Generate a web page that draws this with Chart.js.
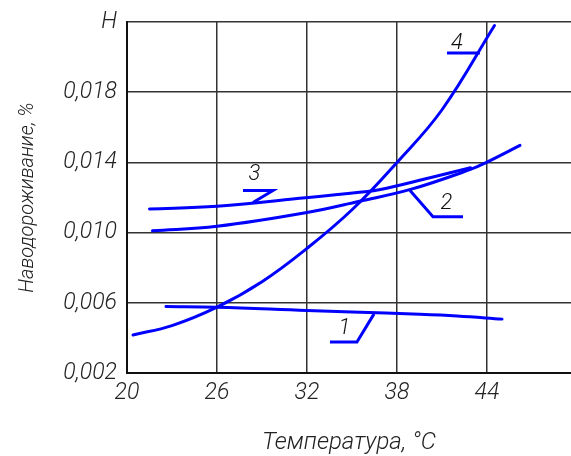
<!DOCTYPE html>
<html>
<head>
<meta charset="utf-8">
<script src="https://cdn.jsdelivr.net/npm/chart.js@4"></script>
<style>
html,body{margin:0;padding:0;background:#fff;overflow:hidden;}
#wrap{width:571px;height:456px;position:relative;}
</style>
</head>
<body>
<div id="wrap"><canvas id="c" width="571" height="456"></canvas></div>
<script>
// ---- data ----
const xTicks = [20, 26, 32, 38, 44];
const yTicks = [0.002, 0.006, 0.010, 0.014, 0.018, 0.022];
const yTickLabels = ["0,002", "0,006", "0,010", "0,014", "0,018", "H"];

const curve1T = [22.6, 26, 32, 35, 39.5, 42, 45.0];
const curve1V = [0.00579, 0.00575, 0.00556, 0.00548, 0.00535, 0.00525, 0.00507];

const curve2T = [21.7, 26, 31.9, 35.5, 38.9, 42.9, 44, 46.2];
const curve2V = [0.0101, 0.01036, 0.01113, 0.01179, 0.01246, 0.0136, 0.01402, 0.01497];

const curve3T = [21.5, 26, 31.9, 35.5, 36.9, 40.2, 42.9];
const curve3V = [0.01135, 0.0115, 0.01198, 0.0123, 0.01246, 0.01313, 0.0137];

const curve4T = [20.4, 23, 26, 29, 32, 35, 38, 41, 44.5];
const curve4V = [0.00417, 0.0047, 0.00575, 0.0072, 0.0091, 0.0113, 0.0140, 0.0170, 0.0218];

// curve number labels and their leader lines (data units)
const labelNames = ["1", "2", "3", "4"];
const labelT = [34.5, 41.3, 28.5, 42.0];
const labelV = [0.00455, 0.01166, 0.0133, 0.0208];
const leader1T = [33.53, 35.33, 36.47], leader1V = [0.00377, 0.00377, 0.00537];
const leader2T = [38.87, 40.4, 42.4],   leader2V = [0.0124, 0.01091, 0.01091];
const leader3T = [27.73, 29.73, 28.4],  leader3V = [0.0124, 0.0124, 0.01171];
const leader4T = [41.33, 43.53],        leader4V = [0.02023, 0.02023];

const xTitle = "Температура, °C";
const yTitle = "Наводороживание, %";

// ---- build ----
const pts = (ts, vs) => ts.map((t, i) => ({x: t, y: vs[i]}));
const BLUE = '#0000ff';
const FONT = 'Roboto';

function curve(ts, vs) {
  return {data: pts(ts, vs), borderColor: BLUE, borderWidth: 3, pointRadius: 0,
          tension: 0.4, fill: false, borderCapStyle: 'round'};
}
function leader(ts, vs) {
  return {data: pts(ts, vs), borderColor: BLUE, borderWidth: 3, pointRadius: 0,
          tension: 0, fill: false};
}

const labelPlugin = {
  id: 'curveLabels',
  afterDatasetsDraw(chart) {
    const {ctx, scales: {x, y}} = chart;
    ctx.save();
    ctx.fillStyle = '#111';
    ctx.font = 'italic 300 22px ' + FONT;
    ctx.textAlign = 'center';
    ctx.textBaseline = 'middle';
    labelNames.forEach((n, i) => {
      ctx.fillText(n, x.getPixelForValue(labelT[i]), y.getPixelForValue(labelV[i]));
    });
    ctx.restore();
  }
};

new Chart(document.getElementById('c'), {
  type: 'line',
  data: {
    datasets: [
      curve(curve1T, curve1V), curve(curve2T, curve2V), curve(curve3T, curve3V), curve(curve4T, curve4V),
      leader(leader1T, leader1V), leader(leader2T, leader2V), leader(leader3T, leader3V), leader(leader4T, leader4V)
    ]
  },
  options: {
    responsive: false,
    animation: false,
    layout: {padding: {top: 22, left: 0, right: 0, bottom: 0}},
    plugins: {legend: {display: false}, tooltip: {enabled: false}},
    scales: {
      x: {
        type: 'linear', min: 20, max: 49.6,
        afterBuildTicks: s => { s.ticks = xTicks.map(v => ({value: v})); },
        afterFit: s => { s.height = 83; s.paddingLeft = 0; s.paddingRight = 0; },
        grid: {color: '#333', lineWidth: 1.5, drawTicks: false},
        border: {color: '#111', width: 2},
        ticks: {color: '#222', padding: 6, maxRotation: 0, autoSkip: false,
                font: {family: FONT, size: 23, style: 'italic', weight: 300},
                callback: v => String(v)},
        title: {display: true, text: xTitle, color: '#222', padding: {top: 0, bottom: 1},
                font: {family: FONT, size: 24, style: 'italic', weight: 300, lineHeight: 1}}
      },
      y: {
        type: 'linear', min: 0.002, max: 0.022,
        afterBuildTicks: s => { s.ticks = yTicks.map(v => ({value: v})); },
        afterFit: s => { s.width = 127; s.paddingTop = 0; s.paddingBottom = 0; },
        grid: {color: '#333', lineWidth: 1.5, drawTicks: false},
        border: {color: '#111', width: 2},
        ticks: {color: '#222', padding: 10, autoSkip: false,
                font: {family: FONT, size: 23, style: 'italic', weight: 300},
                callback: (v) => { const i = yTicks.findIndex(t => Math.abs(t - v) < 1e-9); return i >= 0 ? yTickLabels[i] : ''; }},
        title: {display: true, text: yTitle, color: '#222', padding: {top: 16, bottom: 0},
                font: {family: FONT, size: 20, style: 'italic', weight: 300, lineHeight: 1.2}}
      }
    }
  },
  plugins: [labelPlugin]
});
</script>
</body>
</html>
